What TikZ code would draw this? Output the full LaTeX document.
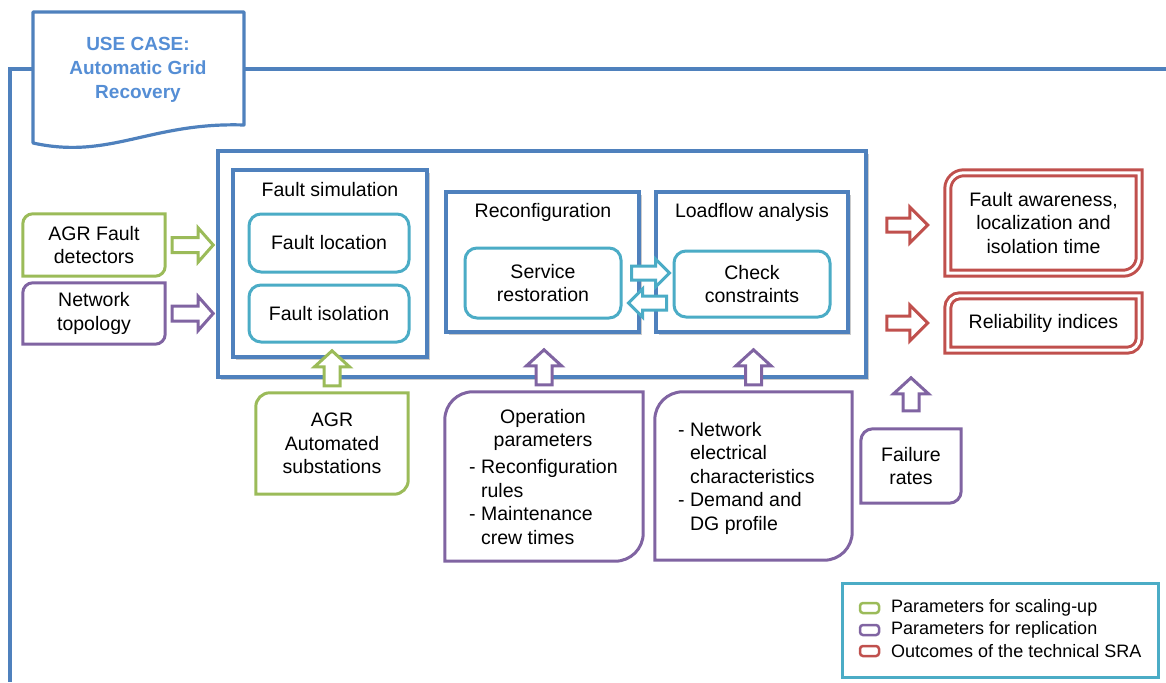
\documentclass[tikz,border=0pt]{standalone}
\usepackage{fontspec}
\setmainfont{Liberation Sans}
\usetikzlibrary{shadows}
\definecolor{cblue}{HTML}{4F81BD}
\definecolor{ccyan}{HTML}{4BACC6}
\definecolor{cgreen}{HTML}{9BBB59}
\definecolor{cpurple}{HTML}{8064A2}
\definecolor{cred}{HTML}{C0504D}
\definecolor{ctitle}{HTML}{558ED5}
\tikzset{
  txt/.style={font=\fontsize{19.5}{23.5}\selectfont, align=center, inner sep=0pt},
  listtxt/.style={font=\fontsize{19.5}{23.5}\selectfont, align=left, inner sep=0pt},
  titletxt/.style={font=\fontsize{19}{24}\selectfont\bfseries, text=ctitle, align=center, inner sep=0pt},
  frameline/.style={draw=cblue, line width=3.2pt},
  bluebox/.style={draw=cblue, line width=3.4pt, fill=white, inner sep=0pt,
    drop shadow={shadow xshift=3pt, shadow yshift=-3pt, opacity=0.5, fill=black!40}},
  cyanbox/.style={txt, draw=ccyan, line width=3pt, rounded corners=12pt, fill=white},
  blockarr/.style={line width=3pt, fill=white, line join=miter},
  legicon/.style={rounded corners=3pt, minimum width=19pt, minimum height=10pt, line width=2.5pt, inner sep=0pt},
  legtxt/.style={font=\fontsize{18}{21}\selectfont, inner sep=0pt, anchor=west}
}
% round-diagonal border around a named node: #1 node, #2 radius, #3 style
\newcommand\rdbox[3]{%
  \draw[#3] (#1.north east) -- ([xshift=#2]#1.north west)
    arc[start angle=90, end angle=180, radius=#2] -- (#1.south west)
    -- ([xshift=-#2]#1.south east)
    arc[start angle=270, end angle=360, radius=#2] -- cycle;}
% block arrow: #1 start, #2 angle, #3 length, #4 shaft half, #5 head half, #6 head length, #7 colour
\newcommand\blockarrow[7]{%
  \begin{scope}[shift={(#1)}, rotate=#2]
    \draw[blockarr, draw=#7] (0,-#4) -- ({#3-#6},-#4) -- ({#3-#6},-#5) -- (#3,0)
      -- ({#3-#6},#5) -- ({#3-#6},#4) -- (0,#4) -- cycle;
  \end{scope}}
\begin{document}
\begin{tikzpicture}[x=1pt, y=1pt]
\useasboundingbox (0,0) rectangle (1166,-682);

% outer frame and title
\coordinate (frL) at (33,-69);
\coordinate (frLc) at (10,-69);
\coordinate (frLb) at (10,-682);
\coordinate (frR) at (244,-69);
\coordinate (frRe) at (1166,-69);
\draw[frameline] (frL) -- (frLc) -- (frLb);
\draw[frameline] (frR) -- (frRe);
\draw[frameline, fill=white, line join=round] (33,-143) -- (33,-12) -- (244,-12) -- (244,-125)
  .. controls (150,-122) and (110,-160) .. (33,-143) -- cycle;
\node[titletxt] (title) at (138,-70) {USE CASE:\\Automatic Grid\\Recovery};

% main container
\node[bluebox, minimum width=648pt, minimum height=226pt] (main) at (542,-264) {};

% fault simulation
\node[bluebox, minimum width=194pt, minimum height=187pt] (fsim) at (330,-263.5) {};
\node[txt] (fsimlbl) at (330,-190) {Fault simulation};
\node[cyanbox, minimum width=160pt, minimum height=58pt] (floc) at (329,-243) {Fault location};
\node[cyanbox, minimum width=160pt, minimum height=57pt] (fiso) at (329,-313.5) {Fault isolation};

% reconfiguration
\node[bluebox, minimum width=193pt, minimum height=140pt] (reconf) at (542.5,-262) {};
\node[txt] (reconflbl) at (543,-212) {Reconfiguration};
\node[cyanbox, minimum width=156pt, minimum height=70pt] (serv) at (543,-283) {Service\\restoration};

% loadflow
\node[bluebox, minimum width=192pt, minimum height=140pt] (load) at (752,-262) {};
\node[txt] (loadlbl) at (752,-212) {Loadflow analysis};
\node[cyanbox, minimum width=156pt, minimum height=66pt] (check) at (752,-284) {Check\\constraints};

\blockarrow{[shift={(9pt,10pt)}]serv.east}{0}{38}{7}{14}{14}{ccyan}
\blockarrow{[shift={(-6pt,-19pt)}]check.west}{180}{38}{7}{14}{14}{ccyan}

% left inputs
\node[txt, minimum width=142pt, minimum height=62pt] (agrfd) at (94,-245) {AGR Fault\\detectors};
\rdbox{agrfd}{10pt}{draw=cgreen, line width=3pt}
\node[txt, minimum width=142pt, minimum height=61pt] (nettop) at (94,-313.5) {Network\\topology};
\rdbox{nettop}{10pt}{draw=cpurple, line width=3pt}
\blockarrow{[xshift=7pt]agrfd.east}{0}{41}{7.5}{17}{15}{cgreen}
\blockarrow{[xshift=7pt]nettop.east}{0}{41}{7.5}{17}{15}{cpurple}

% bottom inputs
\node[txt, minimum width=152pt, minimum height=101pt] (agras) at (332,-443.5) {AGR\\Automated\\substations};
\rdbox{agras}{14pt}{draw=cgreen, line width=3pt}
\blockarrow{[yshift=7pt]agras.north}{90}{35}{8}{17.5}{16}{cgreen}

\node[minimum width=198pt, minimum height=169pt, inner sep=0pt] (oppar) at (544,-476.5) {};
\rdbox{oppar}{28pt}{draw=cpurple, line width=3pt}
\node[txt] (opparhead) at (543,-430) {Operation\\parameters};
\node[listtxt, anchor=west] (opparlist) at (469,-502) {-~Reconfiguration\\\hphantom{-~}rules\\-~Maintenance\\\hphantom{-~}crew times};
\blockarrow{[yshift=7pt]oppar.north}{90}{35}{8}{17.5}{16}{cpurple}

\node[minimum width=197pt, minimum height=168pt, inner sep=0pt] (netel) at (753.5,-476) {};
\rdbox{netel}{28pt}{draw=cpurple, line width=3pt}
\node[listtxt, anchor=west] (netellist) at (678,-478) {-~Network\\\hphantom{-~}electrical\\\hphantom{-~}characteristics\\-~Demand and\\\hphantom{-~}DG profile};
\blockarrow{[yshift=7pt]netel.north}{90}{35}{8}{17.5}{16}{cpurple}

\node[txt, minimum width=100pt, minimum height=74pt] (fail) at (911,-466) {Failure\\rates};
\rdbox{fail}{12pt}{draw=cpurple, line width=3pt}
\blockarrow{[yshift=18pt]fail.north}{90}{33}{8}{17.5}{16}{cpurple}

% outputs
\node[txt, minimum width=191pt, minimum height=100pt] (fa) at (1043.5,-223) {Fault awareness,\\localization and\\isolation time};
\rdbox{fa}{16pt}{draw=cred, line width=3pt, double=white, double distance=3pt}
\node[txt, minimum width=191pt, minimum height=54pt] (rel) at (1043.5,-323) {Reliability indices};
\rdbox{rel}{12pt}{draw=cred, line width=3pt, double=white, double distance=3pt}
\blockarrow{[shift={(-61pt,-2pt)}]fa.west}{0}{41}{7}{18}{18}{cred}
\blockarrow{[xshift=-61pt]rel.west}{0}{41}{7}{18}{18}{cred}

% legend
\node[draw=ccyan, line width=3pt, minimum width=316pt, minimum height=94pt, inner sep=0pt] (legend) at (1000,-630) {};
\node[legicon, draw=cgreen] (lg1) at (869.5,-608) {};
\node[legicon, draw=cpurple] (lg2) at (869.5,-630) {};
\node[legicon, draw=cred] (lg3) at (869.5,-651) {};
\node[legtxt] (lt1) at (891,-608) {Parameters for scaling-up};
\node[legtxt] (lt2) at (891,-630) {Parameters for replication};
\node[legtxt] (lt3) at (891,-651) {Outcomes of the technical SRA};
\end{tikzpicture}
\end{document}
